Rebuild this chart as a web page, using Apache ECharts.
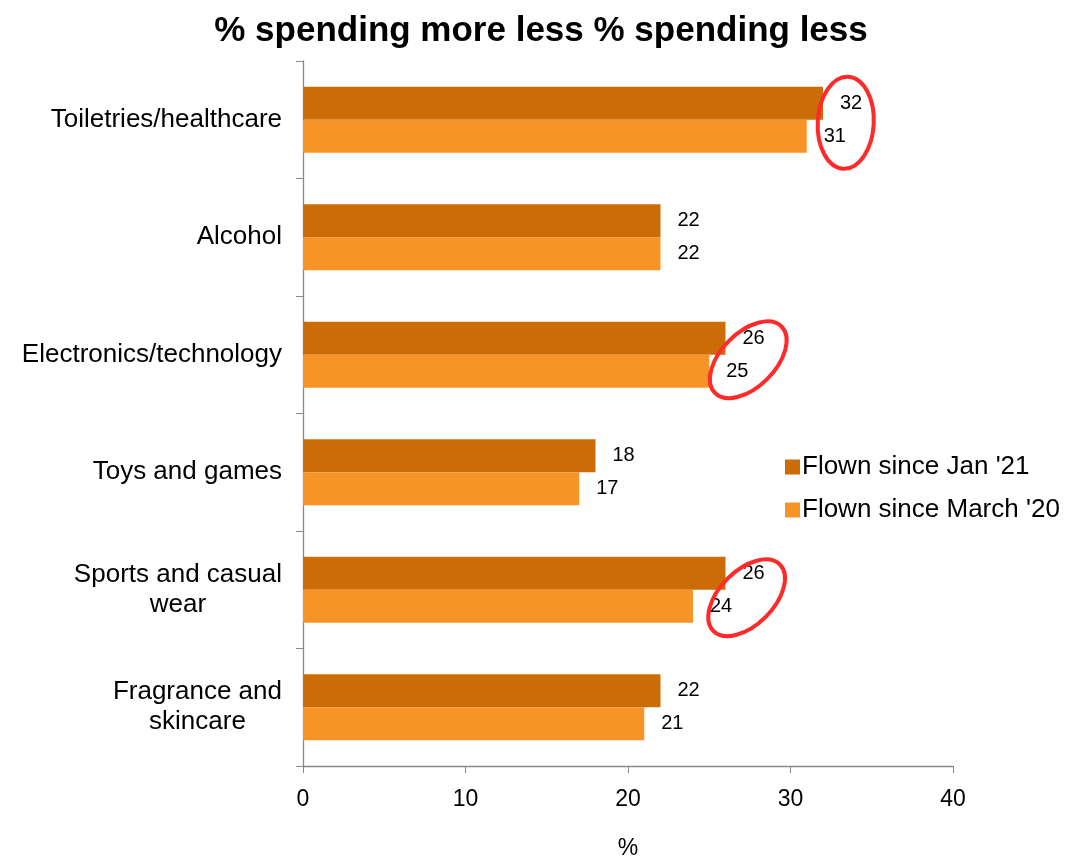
<!DOCTYPE html>
<html><head><meta charset="utf-8">
<script src="https://cdn.jsdelivr.net/npm/echarts@6/dist/echarts.min.js"></script>
<style>html,body{margin:0;padding:0;background:#fff}#c{width:1068px;height:858px}</style>
</head><body><div id="c"></div>
<script>
const categories = ['Toiletries/healthcare','Alcohol','Electronics/technology','Toys and games','Sports and casual\nwear','Fragrance and\nskincare'];
const seriesNames = ["Flown since Jan '21", "Flown since March '20"];
const jan21 = [32, 22, 26, 18, 26, 22];
const mar20 = [31, 22, 25, 17, 24, 21];
const xTicks = [0, 10, 20, 30, 40];
const titleText = '% spending more less % spending less';
// annotation ellipses: [value, categoryIndex, rx, ry, rotationDeg, pixel dy]
const circles = [[33.4, 0, 28, 46, -3, 3], [27.4, 2, 47, 27, 45, 5], [27.3, 4, 47, 27, 45, 8]];

const font = 'Arial, "Liberation Sans", sans-serif';
const chart = echarts.init(document.getElementById('c'));
const lbl = {show: true, position: 'right', distance: 17, color: '#000', fontSize: 20, fontFamily: font};
chart.setOption({
  animation: false,
  title: {text: titleText, left: 536, top: 9, textAlign: 'center',
    textStyle: {fontFamily: font, fontSize: 35, fontWeight: 'bold', color: '#000'}},
  grid: {left: 303, right: 115, top: 61, bottom: 92, containLabel: false, outerBoundsMode: 'none'},
  legend: {orient: 'vertical', left: 780, top: 449, itemWidth: 15, itemHeight: 15, itemGap: 17,
    icon: 'rect', textStyle: {fontFamily: font, fontSize: 26, color: '#000', padding: [0,0,0,-3]},
    data: seriesNames},
  xAxis: {type: 'value', min: xTicks[0], max: xTicks[xTicks.length-1], interval: 10,
    name: '%', nameLocation: 'middle', nameGap: 71,
    nameTextStyle: {fontFamily: font, fontSize: 23, color: '#000'},
    axisLine: {show: true, lineStyle: {color: '#898989', width: 1.3}},
    axisTick: {show: true, length: 7, lineStyle: {color: '#898989'}},
    axisLabel: {fontFamily: font, fontSize: 23, color: '#000', margin: 22},
    splitLine: {show: false}},
  yAxis: {type: 'category', data: categories, inverse: true,
    axisLine: {show: true, lineStyle: {color: '#898989', width: 1.3}},
    axisTick: {show: true, length: 7, lineStyle: {color: '#898989'}},
    axisLabel: {fontFamily: font, fontSize: 26, color: '#000', margin: 21, lineHeight: 30,
      formatter: v => v.split('\n').map(s => '{c|' + s + '}').join('\n'),
      rich: {c: {align: 'center', fontFamily: font, fontSize: 26, color: '#000', lineHeight: 30}}}},
  series: [
    {name: seriesNames[0], type: 'bar', data: jan21, barWidth: 33, barGap: '0%',
      itemStyle: {color: '#CC6C06'}, label: lbl},
    {name: seriesNames[1], type: 'bar', data: mar20, barWidth: 33, barGap: '0%',
      itemStyle: {color: '#F79428'}, label: lbl}
  ]
});
const g = circles.map(c => {
  const p = chart.convertToPixel({gridIndex: 0}, [c[0], c[1]]);
  return {type: 'ellipse', x: p[0], y: p[1] + c[5], rotation: c[4] * Math.PI / 180,
    shape: {cx: 0, cy: 0, rx: c[2], ry: c[3]},
    style: {fill: 'none', stroke: '#FF2A2A', lineWidth: 4}, z: 100};
});
chart.setOption({graphic: g});
</script></body></html>
